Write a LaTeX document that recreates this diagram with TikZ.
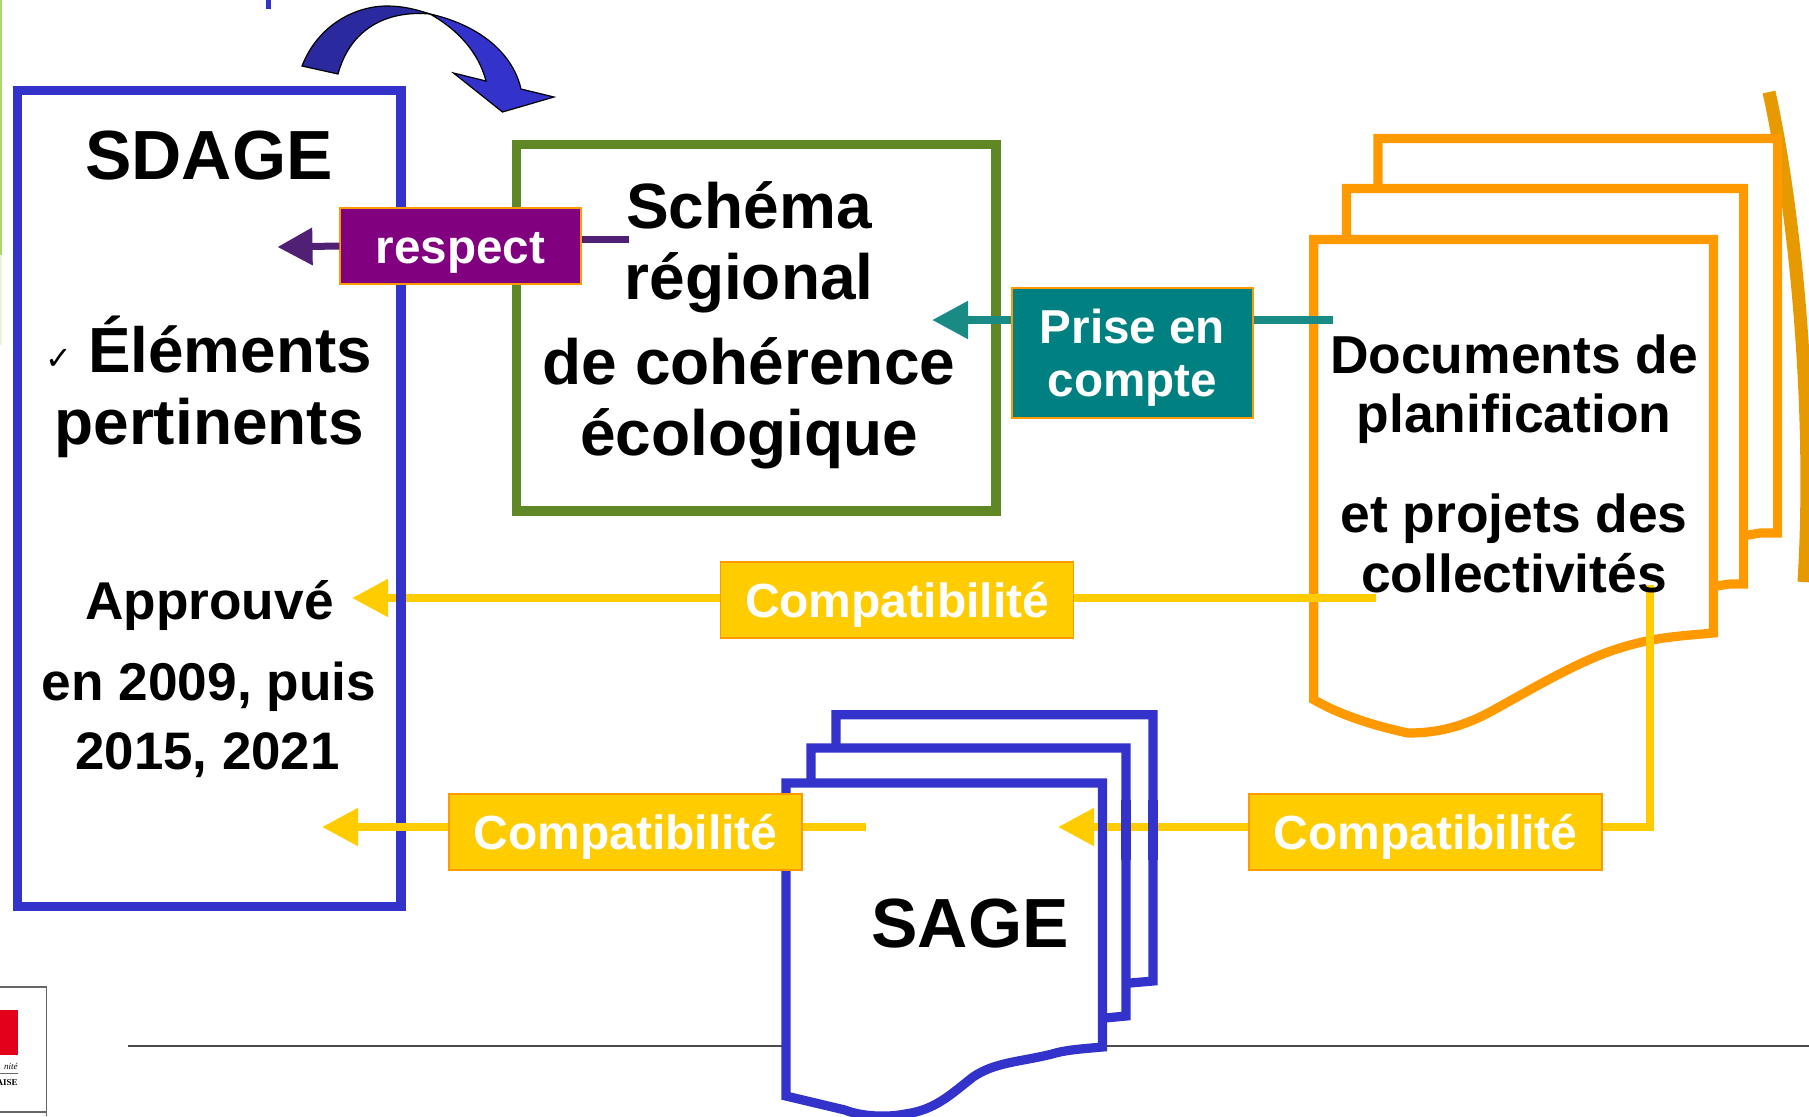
\documentclass[tikz,border=0pt]{standalone}
\usepackage{fontspec}
\setmainfont{Liberation Sans}
\newfontfamily\serifsmall{Liberation Serif}
\newfontfamily\symbolfont{DejaVu Sans}
\usetikzlibrary{arrows.meta}
\definecolor{sdageblue}{HTML}{3333CC}
\definecolor{darkblue}{HTML}{2A2A9E}
\definecolor{leafgreen}{HTML}{5F8726}
\definecolor{docorange}{HTML}{FF9900}
\definecolor{curveorange}{HTML}{E69A00}
\definecolor{compatyellow}{HTML}{FFCC00}
\definecolor{respectpurple}{HTML}{800080}
\definecolor{linepurple}{HTML}{4F2073}
\definecolor{primeteal}{HTML}{008080}
\definecolor{lineteal}{HTML}{1A8A85}
\definecolor{logored}{HTML}{E2001A}
\definecolor{slidegreen}{HTML}{A9D96A}
\tikzset{
  frame/.style={draw=#1,line width=4.6pt,line join=miter},
  sheet/.style={frame=#1,fill=white},
  title/.style={font=\bfseries\fontsize{34.8}{34.8}\selectfont,anchor=base,inner sep=0pt},
  body/.style={font=\bfseries\fontsize{#1}{#1}\selectfont,anchor=base,inner sep=0pt},
  tag/.style={draw=docorange,line width=0.7pt,text=white,inner sep=0pt,
    font=\bfseries\fontsize{24}{24}\selectfont,text height=20pt,text depth=3pt},
  compat/.style={tag,fill=compatyellow,minimum width=176.5pt,minimum height=38pt},
  link/.style={line width=4pt,draw=#1,-{Triangle[length=18pt,width=18pt,fill=#1]}},
  plain link/.style={line width=4pt,draw=#1},
  sweep/.style={draw=black,line width=0.6pt,line join=miter}
}
\begin{document}
\begin{tikzpicture}[x=0.5pt,y=-0.5pt]
  \useasboundingbox (0,0) rectangle (1809,1116);
  % bits of the slide behind
  \fill[white] (0,0) rectangle (1809,1116);
  \fill[slidegreen!25] (0,255) rectangle (2,345);
  \fill[slidegreen] (0,0) rectangle (2,255);
  \fill[sdageblue] (266,0) rectangle (271,9);
  \draw[line width=6.5pt,curveorange] (1769,92) .. controls (1793,200) and (1815,400) .. (1804,582);
  \draw[line width=1pt,black!70] (128,1046) -- (1809,1046);
  % logo corner
  \draw[line width=0.6pt,black!60] (0,987) -- (46.7,987) -- (46.7,1116);
  \draw[line width=0.6pt,black!60] (0,1112) -- (46.7,1112);
  \fill[logored] (0,1010) rectangle (18,1055);
  \draw[line width=0.3pt,black!60] (0,1073) -- (18,1073);
  \node[font=\serifsmall\itshape\fontsize{4.5}{5}\selectfont,anchor=base east,inner sep=0pt] (logotop) at (18,1069) {nité};
  \node[font=\serifsmall\bfseries\fontsize{4.5}{5}\selectfont,anchor=base east,inner sep=0pt] (logobot) at (18,1085) {AISE};

  % coordinates for the loose ends
  \coordinate (sdagetop) at (352,598);
  \coordinate (sdagelow) at (322,827);
  \coordinate (sdageresp) at (277.5,247);
  \coordinate (schemaresp) at (629,239);
  \coordinate (schemaprise) at (932,320);
  \coordinate (docprise) at (1332.6,320);
  \coordinate (doccompat) at (1375.5,598);
  \coordinate (docdown) at (1650,585);
  \coordinate (docbend) at (1650,827);
  \coordinate (sageright) at (1058,827);
  \coordinate (sageleft) at (866,827);

  % top arrow runs under the blue frame
  \node[compat] (compattop) at (897,600) {Compatibilité};
  \draw[link=compatyellow] (compattop.west |- sdagetop) -- (sdagetop);

  % SDAGE frame and the green frame
  \node[frame=sdageblue,minimum width=191.8pt,minimum height=407.9pt,inner sep=0pt] (sdage) at (209.2,498.6) {};
  \node[frame=leafgreen,minimum width=239.7pt,minimum height=183.2pt,inner sep=0pt] (schema) at (756.2,327.8) {};

  % curved arrow on top
  \draw[sweep,fill=darkblue] (302,66) .. controls (318,25) and (355,6) .. (387,6)
    .. controls (402,6) and (415,9) .. (430,14) .. controls (385,10) and (350,30) .. (338,74) -- cycle;
  \draw[sweep,fill=sdageblue] (430,14) .. controls (475,24) and (512,50) .. (521,89) -- (554,97) -- (502.5,112)
    -- (453.5,73) -- (486,81) .. controls (478,50) and (455,28) .. (430,14) -- cycle;

  % sheets of the planning documents
  \draw[sheet=docorange] (1378,138.5) -- (1777.6,138.5) -- (1777.6,533) -- (1760,533) -- (1748,535) -- (1378,600) -- cycle;
  \draw[sheet=docorange] (1346.5,188.5) -- (1743.6,188.5) -- (1743.6,584) -- (1730,584) -- (1716,586) -- (1346.5,640) -- cycle;
  \draw[sheet=docorange] (1313.7,239.5) -- (1713.5,239.5) -- (1713.5,633)
    .. controls (1680,636) and (1655,637) .. (1620,648)
    .. controls (1580,660) and (1530,690) .. (1490,712)
    .. controls (1460,728) and (1435,733) .. (1408,733)
    .. controls (1385,728) and (1345,718) .. (1313.7,699.6) -- cycle;

  % the SAGE sheets, the arrow lies on them and under their right edges
  \draw[sheet=sdageblue] (836,714.7) -- (1153,714.7) -- (1153,981) -- (1130,983) -- (836,1000) -- cycle;
  \draw[sheet=sdageblue] (811,748) -- (1126,748) -- (1126,1016) -- (1105,1018) -- (811,1040) -- cycle;
  \draw[sheet=sdageblue] (786,783) -- (1102.4,783) -- (1102.4,1047)
    .. controls (1080,1049) and (1065,1050) .. (1052,1054)
    .. controls (1020,1062) and (995,1062) .. (973,1077)
    .. controls (950,1095) and (935,1110) .. (905,1114)
    .. controls (885,1118) and (860,1116) .. (845,1110) -- (786,1096) -- cycle;
  \node[compat] (compatright) at (1425.5,832) {Compatibilité};
  \draw[link=compatyellow] (compatright.west |- sageright) -- (sageright);
  \draw[frame=sdageblue] (1102.4,800) -- (1102.4,860);
  \draw[frame=sdageblue] (1126,800) -- (1126,860);
  \draw[frame=sdageblue] (1153,800) -- (1153,860);

  % label boxes and the remaining connectors
  \node[compat] (compatleft) at (625.5,832) {Compatibilité};
  \node[tag,fill=respectpurple,minimum width=120.5pt,minimum height=38pt,font=\bfseries\fontsize{23.8}{23.8}\selectfont] (respect) at (460.5,246) {respect};
  \node[tag,fill=primeteal,minimum width=120.5pt,minimum height=65pt,font=\bfseries\fontsize{23.8}{26.5}\selectfont,align=center,text height=,text depth=] (prise) at (1132.5,353) {\rule{0pt}{21.6pt}Prise en\\compte};
  \draw[link=lineteal] (prise.west |- schemaprise) -- (schemaprise);
  \draw[plain link=lineteal] (docprise) -- (prise.east |- docprise);
  \draw[plain link=compatyellow] (doccompat) -- (compattop.east |- doccompat);
  \draw[link=compatyellow] (compatleft.west |- sdagelow) -- (sdagelow);
  \draw[plain link=compatyellow] (compatleft.east |- sageleft) -- (sageleft);
  \draw[plain link=compatyellow,line join=miter] (docdown) -- (docbend) -- (compatright.east |- docbend);
  \draw[line width=3.5pt,linepurple] (schemaresp) -- (respect.east |- schemaresp);
  \draw[line width=3.5pt,linepurple,-{Triangle[length=17.5pt,width=18pt,fill=linepurple]}] (respect.west) -- (sdageresp);

  % texts
  \node[title] (sdagename) at (209,179) {SDAGE};
  \node[font=\symbolfont\fontsize{16}{16}\selectfont,inner sep=0pt] (tick) at (58.5,359) {✓};
  \node[body=31.9] (elements) at (230,372) {Éléments};
  \node[body=32] (pertinents) at (209,444) {pertinents};
  \node[body=26.6] (approuve) at (209.5,619) {Approuvé};
  \node[body=26.6] (years) at (209,700) {en 2009, puis};
  \node[body=26.4] (yearsb) at (207.5,769) {2015, 2021};
  \node[body=32] (schemaa) at (749,228) {Schéma};
  \node[body=32] (schemab) at (749,299) {régional};
  \node[body=32] (schemac) at (749,384) {de cohérence};
  \node[body=32] (schemad) at (749,455) {écologique};
  \node[body=26.7] (doca) at (1514,373) {Documents de};
  \node[body=26.7] (docb) at (1514,432) {planification};
  \node[body=26.7] (docc) at (1514,532) {et projets des};
  \node[body=26.7] (docd) at (1514,592) {collectivités};
  \node[title] (sagename) at (970,947) {SAGE};
\end{tikzpicture}
\end{document}
